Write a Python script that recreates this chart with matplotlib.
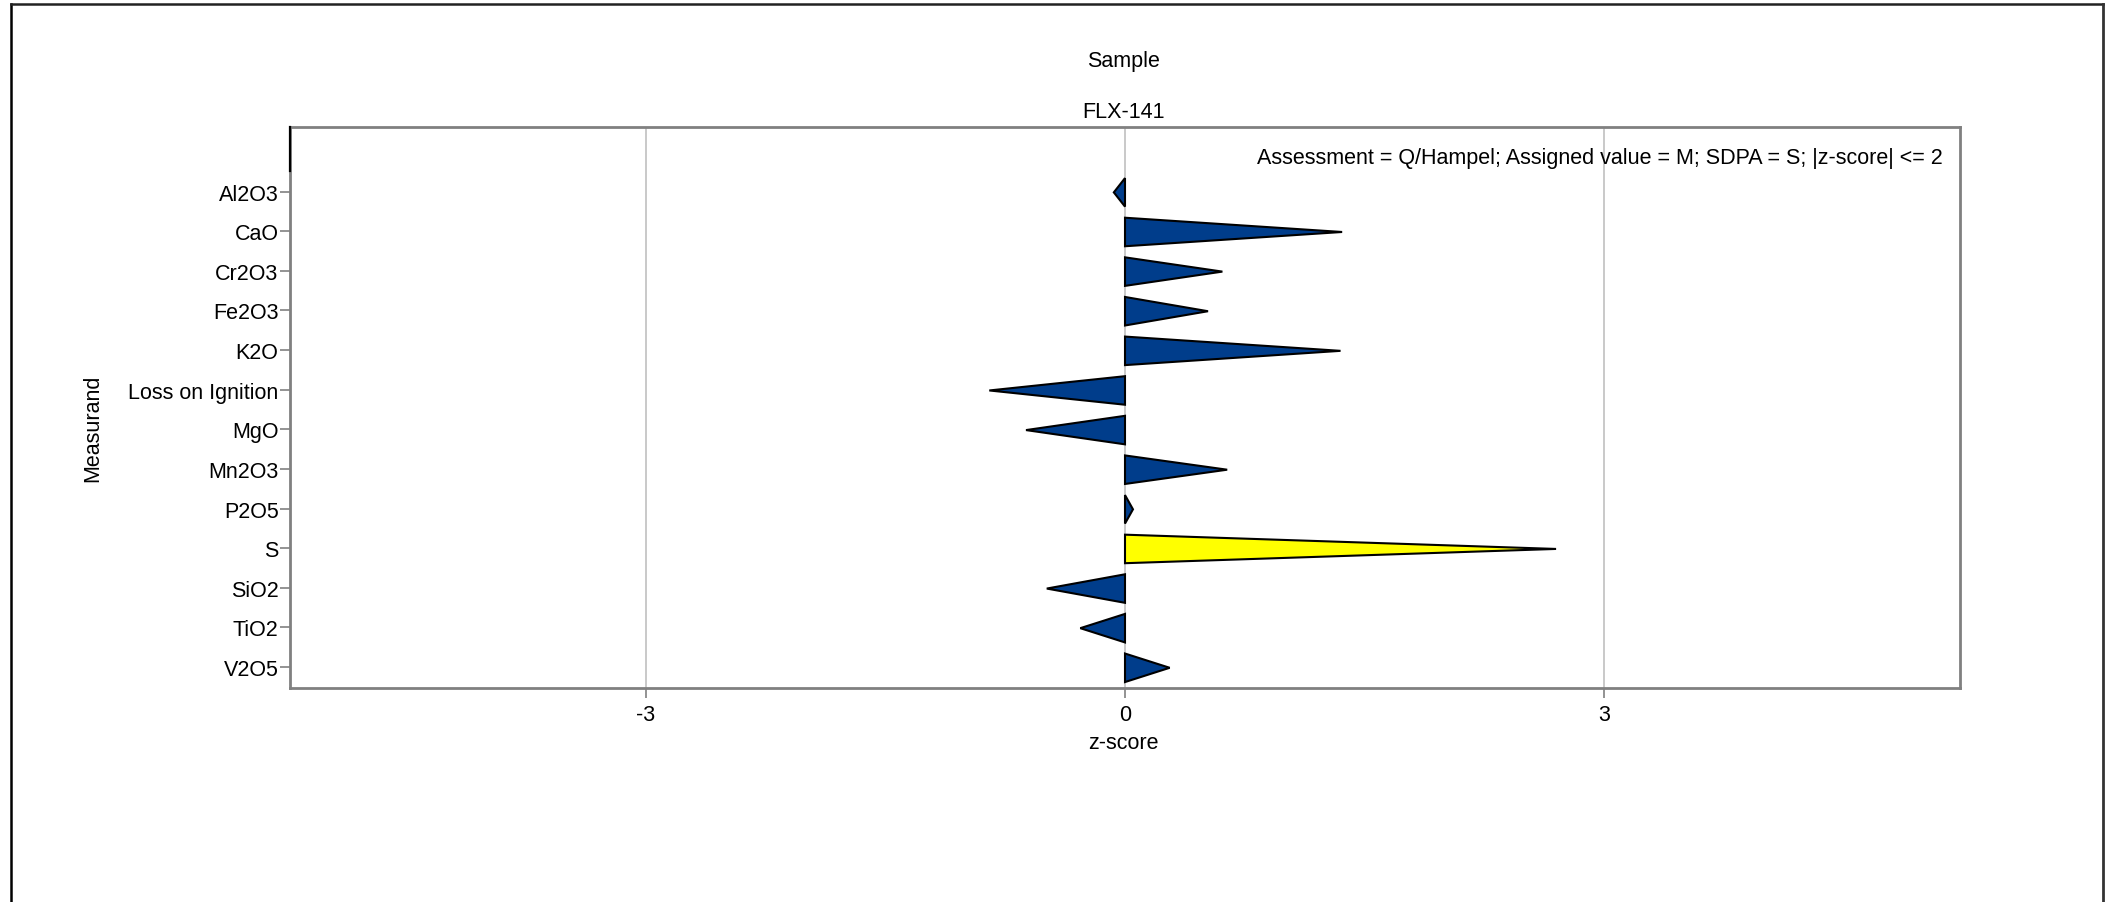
import matplotlib
matplotlib.use("Agg")
import matplotlib.pyplot as plt
from matplotlib.lines import Line2D

plt.rcParams['font.family'] = ['Liberation Sans', 'DejaVu Sans']

measurands = ["Al2O3", "CaO", "Cr2O3", "Fe2O3", "K2O", "Loss on Ignition", "MgO",
              "Mn2O3", "P2O5", "S", "SiO2", "TiO2", "V2O5"]
zscores = [-0.07, 1.36, 0.61, 0.52, 1.35, -0.85, -0.62, 0.64, 0.05, 2.70, -0.49, -0.28, 0.28]
colors = ["#003D8B"] * 9 + ["#FFFF00"] + ["#003D8B"] * 3
xticks = [-3, 0, 3]

W, H = 2112, 903
FS = 15.5
fig = plt.figure(figsize=(W / 100, H / 100), dpi=100)
ax = fig.add_axes([290 / W, 1 - 689 / H, (1960 - 290) / W, (689 - 128) / H])

half = 0.36
for i, (v, c) in enumerate(zip(zscores, colors)):
    ax.fill([0, v, 0], [i - half + 0.02, i + 0.02, i + half + 0.02], facecolor=c, edgecolor="black",
            linewidth=1.5, zorder=3, joinstyle="miter")

for xt in xticks:
    ax.axvline(xt, color="#C0C0C0", linewidth=1.2, zorder=1)

ax.set_xlim(-5.23, 5.23)
ax.set_ylim(12.53, -1.63)
ax.set_yticks(range(len(measurands)))
ax.set_yticklabels(measurands)
ax.set_xticks(xticks)
ax.set_xticklabels([str(t) for t in xticks])

for s in ax.spines.values():
    s.set_color("#808080")
    s.set_linewidth(2.0)

ax.tick_params(axis="y", length=7.2, width=1.2, color="#808080", pad=1, labelsize=FS)
ax.tick_params(axis="x", length=7.2, width=1.2, color="#808080", pad=4, labelsize=FS)

ax.axvline(-5.23, ymin=0.922, ymax=1.0, color="black", linewidth=1.6, zorder=5, clip_on=False)

fig.text(1123 / W, 1 - 61 / H, "Sample", ha="center", va="center", fontsize=FS)
fig.text(1123 / W, 1 - 112 / H, "FLX-141", ha="center", va="center", fontsize=FS)
fig.text(1943 / W, 1 - 159 / H,
         "Assessment = Q/Hampel; Assigned value = M; SDPA = S; |z-score| <= 2",
         ha="right", va="center", fontsize=FS)
fig.text(1123 / W, 1 - 744 / H, "z-score", ha="center", va="center", fontsize=FS)
fig.text(93 / W, 1 - 428 / H, "Measurand", ha="center", va="center", rotation=90, fontsize=FS)

# outer frame (top, left, right)
fx0, fx1, fy1 = 10.5 / W, 2103 / W, 1 - 5 / H
fig.add_artist(Line2D([fx0, fx0], [0, fy1], transform=fig.transFigure, color="black", linewidth=1.8))
fig.add_artist(Line2D([fx0, fx1], [fy1, fy1], transform=fig.transFigure, color="#222222", linewidth=1.8))
fig.add_artist(Line2D([fx1, fx1], [0, fy1], transform=fig.transFigure, color="#333333", linewidth=2.0))

fig.savefig("out.png", dpi=100, facecolor="white")
